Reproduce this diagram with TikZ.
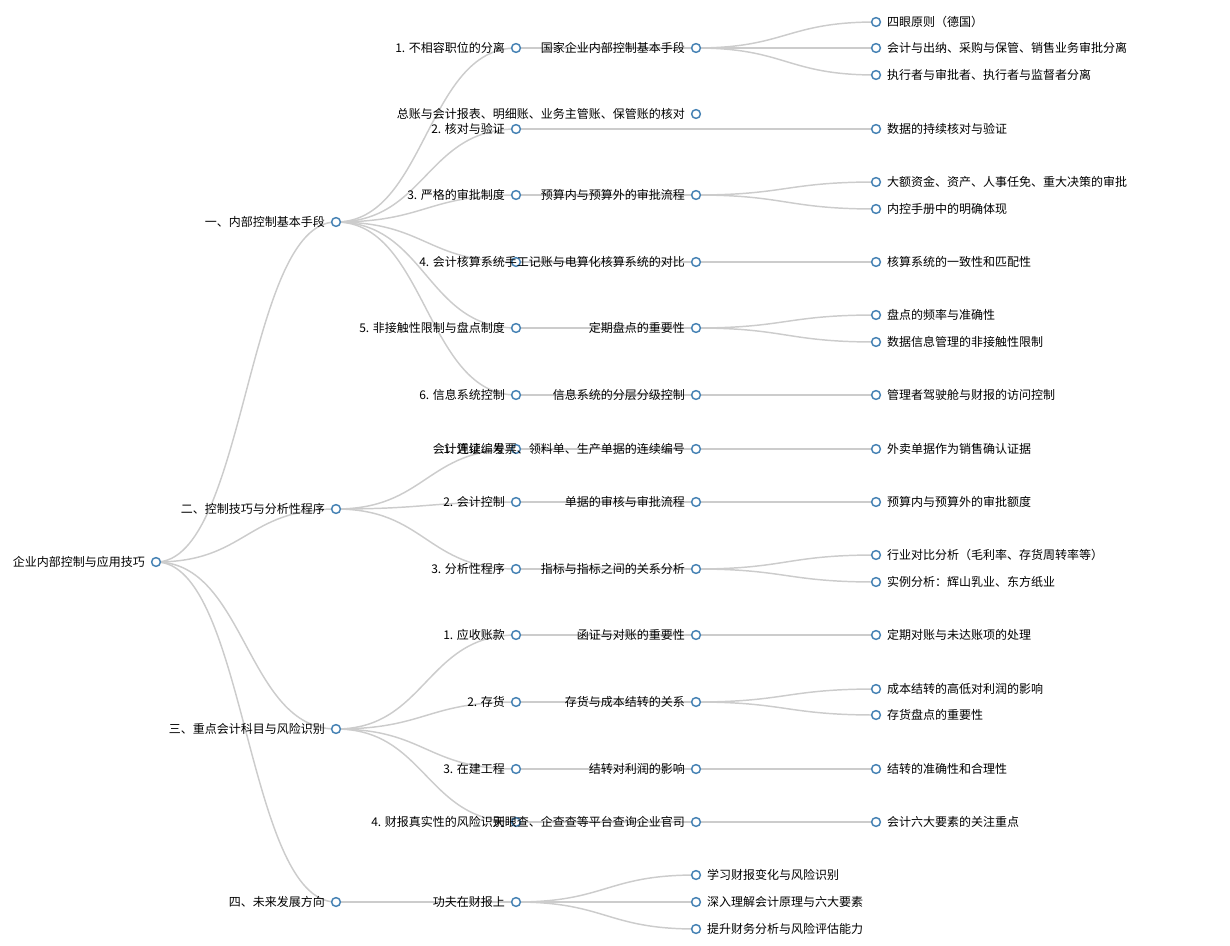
\documentclass[tikz,border=0pt]{standalone}
\usepackage{fontspec}
\setmainfont{Noto Sans CJK SC}
\usetikzlibrary{backgrounds}

\definecolor{steel}{RGB}{70,130,180}
\definecolor{linkgray}{RGB}{204,204,204}
\tikzstyle{dot} = [circle, draw=steel, fill=white, line width=1.1pt, minimum size=6.6pt, inner sep=0pt]
\tikzstyle{lbl} = [inner sep=0pt, font=\fontsize{9pt}{10pt}\selectfont, text=black]
\tikzstyle{link} = [draw=linkgray, line width=1.1pt]
\tikzset{
    parent/.style={dot, label={[lbl, label distance=4.3pt]left:{#1}}},
    leaf/.style={dot, label={[lbl, label distance=4.3pt]right:{#1}}}
}

\begin{document}
\begin{tikzpicture}[x=0.75pt, y=-0.75pt]
        \useasboundingbox (0,0) rectangle (1230,945);
        % root and main branches
        \node[parent=企业内部控制与应用技巧] (root) at (156,562) {};
        \node[parent=一、内部控制基本手段] (one) at (336,222) {};
        \node[parent=二、控制技巧与分析性程序] (two) at (336,509) {};
        \node[parent=三、重点会计科目与风险识别] (three) at (336,729) {};
        \node[parent=四、未来发展方向] (four) at (336,902) {};
        % second level
        \node[parent=1. 不相容职位的分离] (a1) at (516,48) {};
        \node[parent=2. 核对与验证] (a2) at (516,129) {};
        \node[parent=3. 严格的审批制度] (a3) at (516,195) {};
        \node[parent=4. 会计核算系统] (a4) at (516,262) {};
        \node[parent=5. 非接触性限制与盘点制度] (a5) at (516,328) {};
        \node[parent=6. 信息系统控制] (a6) at (516,395) {};
        \node[parent=1. 连续编号] (b1) at (516,449) {};
        \node[parent=2. 会计控制] (b2) at (516,502) {};
        \node[parent=3. 分析性程序] (b3) at (516,569) {};
        \node[parent=1. 应收账款] (c1) at (516,635) {};
        \node[parent=2. 存货] (c2) at (516,702) {};
        \node[parent=3. 在建工程] (c3) at (516,769) {};
        \node[parent=4. 财报真实性的风险识别] (c4) at (516,822) {};
        \node[parent=功夫在财报上] (d1) at (516,902) {};
        % third level
        \node[parent=国家企业内部控制基本手段] (a1m) at (696,48) {};
        \node[parent=总账与会计报表、明细账、业务主管账、保管账的核对] (a2m) at (696,114) {};
        \coordinate (a2h) at (696,129);
        \node[parent=预算内与预算外的审批流程] (a3m) at (696,195) {};
        \node[parent=手工记账与电算化核算系统的对比] (a4m) at (696,262) {};
        \node[parent=定期盘点的重要性] (a5m) at (696,328) {};
        \node[parent=信息系统的分层分级控制] (a6m) at (696,395) {};
        \node[parent=会计凭证、发票、领料单、生产单据的连续编号] (b1m) at (696,449) {};
        \node[parent=单据的审核与审批流程] (b2m) at (696,502) {};
        \node[parent=指标与指标之间的关系分析] (b3m) at (696,569) {};
        \node[parent=函证与对账的重要性] (c1m) at (696,635) {};
        \node[parent=存货与成本结转的关系] (c2m) at (696,702) {};
        \node[parent=结转对利润的影响] (c3m) at (696,769) {};
        \node[parent=天眼查、企查查等平台查询企业官司] (c4m) at (696,822) {};
        \node[leaf=学习财报变化与风险识别] (d1m1) at (696,875) {};
        \node[leaf=深入理解会计原理与六大要素] (d1m2) at (696,902) {};
        \node[leaf=提升财务分析与风险评估能力] (d1m3) at (696,929) {};
        % leaves
        \node[leaf=四眼原则（德国）] (a1m1) at (876,22) {};
        \node[leaf=会计与出纳、采购与保管、销售业务审批分离] (a1m2) at (876,48) {};
        \node[leaf=执行者与审批者、执行者与监督者分离] (a1m3) at (876,75) {};
        \node[leaf=数据的持续核对与验证] (a2h1) at (876,129) {};
        \node[leaf=大额资金、资产、人事任免、重大决策的审批] (a3m1) at (876,182) {};
        \node[leaf=内控手册中的明确体现] (a3m2) at (876,209) {};
        \node[leaf=核算系统的一致性和匹配性] (a4m1) at (876,262) {};
        \node[leaf=盘点的频率与准确性] (a5m1) at (876,315) {};
        \node[leaf=数据信息管理的非接触性限制] (a5m2) at (876,342) {};
        \node[leaf=管理者驾驶舱与财报的访问控制] (a6m1) at (876,395) {};
        \node[leaf=外卖单据作为销售确认证据] (b1m1) at (876,449) {};
        \node[leaf=预算内与预算外的审批额度] (b2m1) at (876,502) {};
        \node[leaf=行业对比分析（毛利率、存货周转率等）] (b3m1) at (876,555) {};
        \node[leaf=实例分析：辉山乳业、东方纸业] (b3m2) at (876,582) {};
        \node[leaf=定期对账与未达账项的处理] (c1m1) at (876,635) {};
        \node[leaf=成本结转的高低对利润的影响] (c2m1) at (876,689) {};
        \node[leaf=存货盘点的重要性] (c2m2) at (876,715) {};
        \node[leaf=结转的准确性和合理性] (c3m1) at (876,769) {};
        \node[leaf=会计六大要素的关注重点] (c4m1) at (876,822) {};
        % links behind the dots
        \begin{scope}[on background layer]
        \foreach \a/\b in {root/one, root/two, root/three, root/four,
                one/a1, one/a2, one/a3, one/a4, one/a5, one/a6,
                two/b1, two/b2, two/b3, three/c1, three/c2, three/c3, three/c4, four/d1,
                a1/a1m, a2/a2h, a3/a3m, a4/a4m, a5/a5m, a6/a6m, b1/b1m, b2/b2m, b3/b3m,
                c1/c1m, c2/c2m, c3/c3m, c4/c4m, d1/d1m1, d1/d1m2, d1/d1m3,
                a1m/a1m1, a1m/a1m2, a1m/a1m3, a2h/a2h1, a3m/a3m1, a3m/a3m2, a4m/a4m1,
                a5m/a5m1, a5m/a5m2, a6m/a6m1, b1m/b1m1, b2m/b2m1, b3m/b3m1, b3m/b3m2,
                c1m/c1m1, c2m/c2m1, c2m/c2m2, c3m/c3m1, c4m/c4m1}
            \draw[link] (\a.center) .. controls +(90,0) and +(-90,0) .. (\b.center);
        \end{scope}
    \end{tikzpicture}
\end{document}
